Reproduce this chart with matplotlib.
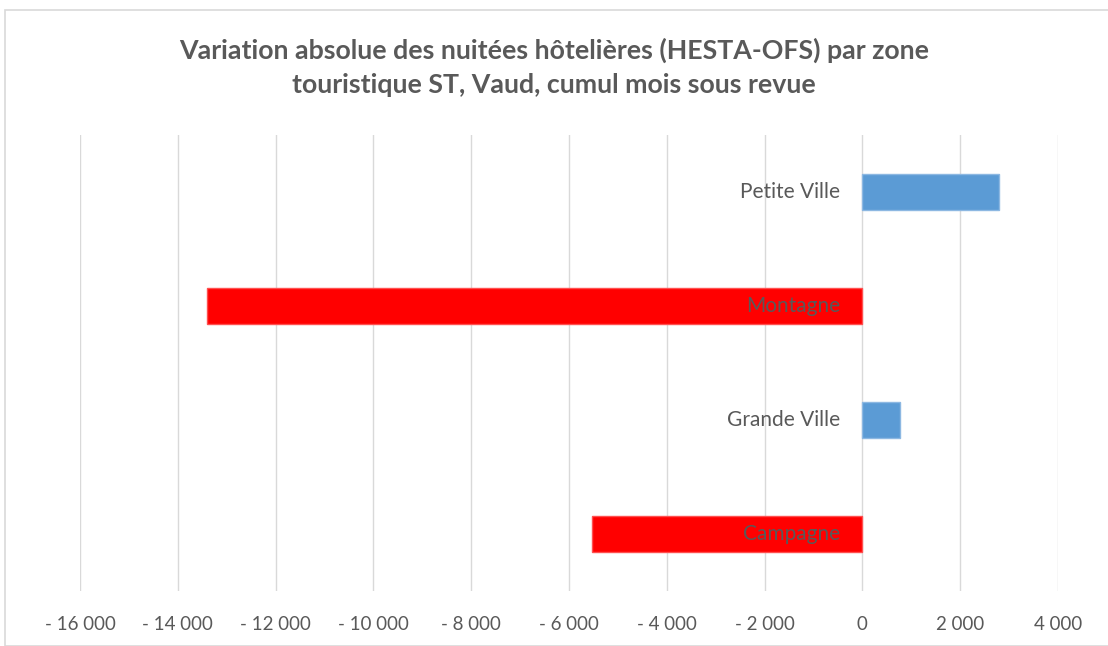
import matplotlib
matplotlib.use("Agg")
import matplotlib.pyplot as plt
from matplotlib.ticker import FuncFormatter, MultipleLocator
from matplotlib.patches import Rectangle

categories = ["Campagne", "Grande Ville", "Montagne", "Petite Ville"]
values = [-5520, 760, -13400, 2800]
colors = ["#FF0000", "#5B9BD5", "#FF0000", "#5B9BD5"]
edgecolors = ["#FF5050", "#8DB8E2", "#FF5050", "#8DB8E2"]
title = "Variation absolue des nuitées hôtelières (HESTA-OFS) par zone\ntouristique ST, Vaud, cumul mois sous revue"

plt.rcParams['font.family'] = ['Lato', 'DejaVu Sans']

fig = plt.figure(figsize=(11.08, 6.46), dpi=100)
ax = fig.add_axes([80/1108, 1 - 591/646, (1058-80)/1108, (591-135)/646])

y = list(range(len(categories)))
ax.barh(y, values, height=0.31, color=colors, edgecolor=edgecolors, linewidth=1, zorder=3)
ax.set_ylim(-0.5, len(categories) - 0.5)
ax.set_xlim(-16000, 4000)
ax.xaxis.set_major_locator(MultipleLocator(2000))

def fmt(v, pos):
    v = int(round(v))
    s = f"{abs(v):,}".replace(",", " ")
    return ("- " + s) if v < 0 else s

ax.xaxis.set_major_formatter(FuncFormatter(fmt))
ax.grid(axis='x', color='#D9D9D9', linewidth=1, zorder=0)
ax.set_axisbelow(True)

for s in ['top', 'right', 'bottom', 'left']:
    ax.spines[s].set_visible(False)

ax.set_yticks(y)
ax.set_yticklabels([])
ax.tick_params(axis='y', length=0)
ax.tick_params(axis='x', length=0, pad=18, labelsize=13.5, labelcolor='#595959')

for yi, cat in zip(y, categories):
    ax.annotate(cat, xy=(0, yi), xytext=(-16, 0), textcoords='offset points',
                ha='right', va='center', fontsize=15, color='#595959', zorder=5)

fig.text(0.5, 1 - 67/646, title, ha='center', va='center', fontsize=19.3,
         fontweight='bold', color='#595959', linespacing=1.5)

fig.patches.append(Rectangle((5/1108, 0), 1.0, 1 - 10/646, transform=fig.transFigure,
                             fill=False, edgecolor='#D9D9D9', linewidth=1.2))

fig.savefig("out.png", dpi=100, facecolor='white')
